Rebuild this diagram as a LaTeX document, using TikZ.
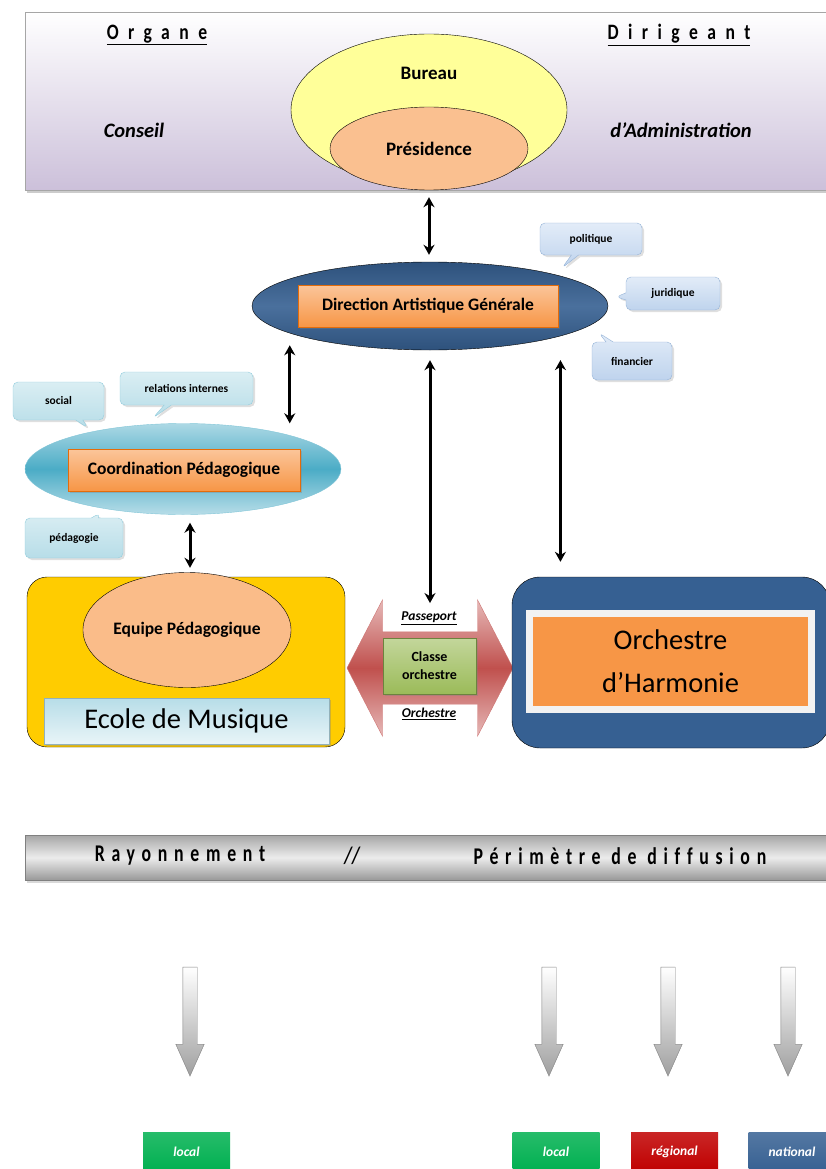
\documentclass[tikz,border=0pt]{standalone}
\usepackage{fontspec}
\setmainfont{Carlito}
\usetikzlibrary{shapes.geometric,shapes.arrows,shapes.callouts,shadows,arrows.meta}

\definecolor{lilas}{HTML}{CCC0DA}
\definecolor{jaune}{HTML}{FFFF99}
\definecolor{peche}{HTML}{FAC090}
\definecolor{bleufonce}{HTML}{366092}
\definecolor{orangeb}{HTML}{F79646}
\definecolor{orangeclair}{HTML}{FBC59A}
\definecolor{orangebord}{HTML}{E46C0A}
\definecolor{ciel}{HTML}{4BACC6}
\definecolor{cielclair}{HTML}{B7DDE8}
\definecolor{dore}{HTML}{FFCC00}
\definecolor{vert}{HTML}{9BBB59}
\definecolor{vertclair}{HTML}{C3D69B}
\definecolor{rouge}{HTML}{C0504D}
\definecolor{rougeclair}{HTML}{E6B9B8}
\definecolor{bulle}{HTML}{C6D9F1}
\definecolor{bullebord}{HTML}{95B3D7}
\definecolor{turq}{HTML}{DAEEF3}
\definecolor{turqbord}{HTML}{93CDDD}
\definecolor{vertvif}{HTML}{00B050}
\definecolor{rougevif}{HTML}{C00000}

\newcommand{\espace}[3]{{\addfontfeatures{LetterSpace=#1,FakeStretch=#2,Ligatures=NoCommon}#3}}

\tikzset{
  ovale/.style={ellipse, draw=black, inner sep=0pt},
  cartouche/.style={rectangle, draw=orangebord, top color=orangeclair, bottom color=orangeb, minimum height=42,
    drop shadow={opacity=.35,shadow xshift=2pt,shadow yshift=-2pt}, font=\bfseries\fontsize{17.5}{20}\selectfont},
  bulle/.style={rectangle callout, rounded corners=5pt, draw=bullebord, top color=bulle!50, bottom color=bulle!85!bullebord,
    font=\bfseries\fontsize{11.5}{13}\selectfont, drop shadow={opacity=.25,shadow xshift=2pt,shadow yshift=-2pt}},
  bulleturq/.style={bulle, draw=turqbord, top color=turq, bottom color=cielclair},
  lien/.style={{Stealth[length=10pt,width=11pt]}-{Stealth[length=10pt,width=11pt]}, line width=3pt},
  fleche/.style={single arrow, shape border rotate=270, draw=gray, top color=white, bottom color=gray!75,
    minimum height=109, minimum width=28, single arrow head extend=7pt, single arrow tip angle=48,
    single arrow head indent=0pt, inner sep=7pt},
  portee/.style={rectangle, minimum width=87, minimum height=40, text=white,
    font=\bfseries\itshape\fontsize{13.5}{15}\selectfont},
}

\begin{document}
\begin{tikzpicture}[x=1pt,y=-1pt]
\useasboundingbox (0,0) rectangle (826,1169);

\node[rectangle, draw=gray!70, top color=white, bottom color=lilas, minimum width=805, minimum height=178,
  drop shadow={opacity=.4,shadow xshift=2pt,shadow yshift=-3pt}] (cad) at (427.5,101) {};
\node[font=\bfseries\fontsize{22}{24}\selectfont] (org) at (157,35) {\underline{\espace{43}{0.8}{Organe}}};
\node[font=\bfseries\fontsize{22}{24}\selectfont] (dir) at (679,35) {\underline{\espace{43}{0.8}{Dirigeant}}};
\node[font=\bfseries\itshape\fontsize{20.5}{22}\selectfont] (cons) at (134,130) {Conseil};
\node[font=\bfseries\itshape\fontsize{20.5}{22}\selectfont] (adm) at (681,130) {d’Administration};

\node[ovale, fill=jaune, minimum width=276, minimum height=152] (bur) at (429,110) {};
\node[font=\bfseries\fontsize{19}{21}\selectfont] (burtxt) at (429,73) {Bureau};
\node[ovale, fill=peche, minimum width=198, minimum height=83, font=\bfseries\fontsize{19}{21}\selectfont] (pres) at (429,148.5) {Présidence};

\node[ovale, top color=bleufonce!85!black, bottom color=bleufonce!85!black, middle color=bleufonce!90!white,
  minimum width=356, minimum height=88] (dag) at (430,306) {};
\node[cartouche, minimum width=260] (dagb) at (428,306) {Direction Artistique Générale};

\node[bulle, minimum width=102, minimum height=32, callout absolute pointer={(562,268)}] (pol) at (591,239) {politique};
\node[bulle, minimum width=94, minimum height=33, callout absolute pointer={(616,297)}] (jur) at (673,293.5) {juridique};
\node[bulle, minimum width=80, minimum height=38, callout absolute pointer={(599,333)}] (fin) at (632,361) {financier};
\node[bulleturq, minimum width=91, minimum height=38, callout absolute pointer={(88,428)}] (soc) at (58.5,401) {social};
\node[bulleturq, minimum width=133, minimum height=33, callout absolute pointer={(153,418)}] (rel) at (186.5,388.5) {relations internes};
\node[bulleturq, minimum width=98, minimum height=40, callout absolute pointer={(100,513)}] (ped) at (74,538) {pédagogie};

\node[ovale, draw=ciel!70, top color=cielclair!90!ciel, bottom color=cielclair, middle color=ciel,
  minimum width=316, minimum height=91] (cp) at (183,469) {};
\node[cartouche, minimum width=232] (cpb) at (184,470) {Coordination Pédagogique};

\node[rectangle, rounded corners=20pt, draw=black, fill=dore, minimum width=318, minimum height=170] (em) at (186,662) {};
\node[ovale, fill=peche!90!orangeb, minimum width=199, minimum height=115, font=\bfseries\fontsize{17.5}{20}\selectfont] (ep) at (187,630) {Equipe Pédagogique};
\node[rectangle, draw=cielclair!80!black, top color=cielclair, bottom color=turq!60, minimum width=285, minimum height=46,
  drop shadow={opacity=.35,shadow xshift=2pt,shadow yshift=-2pt}, font=\fontsize{28.5}{30}\selectfont] (emt) at (186.5,721) {Ecole de Musique};

\node[double arrow, draw=rouge!80, top color=rougeclair, bottom color=rougeclair, middle color=rouge,
  minimum height=166, minimum width=136, double arrow head extend=32pt, double arrow tip angle=125, inner sep=36pt] (dbl) at (430,668) {};
\node[font=\bfseries\itshape\fontsize{13.5}{15}\selectfont] (pass) at (429,618) {\underline{Passeport}};
\node[font=\bfseries\itshape\fontsize{13.5}{15}\selectfont] (orch) at (429,714) {\underline{Orchestre}};
\node[rectangle, draw=vert!70!black, top color=vertclair, bottom color=vert, minimum width=93, minimum height=56, align=center,
  drop shadow={opacity=.35,shadow xshift=2pt,shadow yshift=-2pt}, font=\bfseries\fontsize{14}{18}\selectfont] (co) at (429.5,666) {Classe\\orchestre};

\node[rectangle, rounded corners=28pt, draw=black, fill=bleufonce, minimum width=318, minimum height=171] (oh) at (671,662.5) {};
\node[rectangle, draw=gray!10, line width=7pt, fill=orangeb, minimum width=282, minimum height=96, align=center,
  drop shadow={opacity=.4,shadow xshift=2pt,shadow yshift=-2pt}, font=\fontsize{28.5}{43}\selectfont] (ohb) at (670.5,661.5) {Orchestre\\d’Harmonie};

\draw[lien, shorten <=7pt, shorten >=7pt] (pres.south) -- (pres.south |- dag.north);
\draw[lien, shorten <=12pt] (dag.191) -- (dag.191 |- cp.north);
\draw[lien, shorten <=10pt, shorten >=5pt] (dag.south) -- (dag.south |- pass.north);
\draw[lien, shorten <=24pt, shorten >=15pt] (dag.-13) -- (dag.-13 |- oh.north);
\draw[lien, shorten <=8pt, shorten >=9pt] ([xshift=7pt]cp.south) -- ([xshift=7pt]cp.south |- em.north);

\node[rectangle, draw=gray, top color=gray!70, bottom color=gray!80, middle color=gray!15, minimum width=805, minimum height=45,
  drop shadow={opacity=.3,shadow xshift=2pt,shadow yshift=-3pt}] (ban) at (427.5,857.5) {};
\node[font=\bfseries\fontsize{24}{26}\selectfont] (ray) at (180,856) {\espace{28}{0.74}{Rayonnement}};
\node[font=\bfseries\fontsize{24}{26}\selectfont] (sep) at (352,856) {\espace{0}{0.74}{\itshape //}};
\node[font=\bfseries\fontsize{24}{26}\selectfont] (per) at (620,856) {\espace{28}{0.74}{Périmètre de diffusion}};

\foreach \x/\n in {190/dn1,549/dn2,668/dn3,788/dn4}
  \node[fleche] (\n) at (\x,1013.5) {};

\node[portee, top color=vertvif!85, bottom color=vertvif] (loc1) at (186.5,1152) {local};
\node[portee, top color=vertvif!85, bottom color=vertvif] (loc2) at (556,1152) {local};
\node[portee, top color=rougevif!85, bottom color=rougevif] (reg) at (674.5,1152) {régional};
\node[portee, top color=bleufonce!85, bottom color=bleufonce] (nat) at (792,1152) {national};
\end{tikzpicture}
\end{document}
